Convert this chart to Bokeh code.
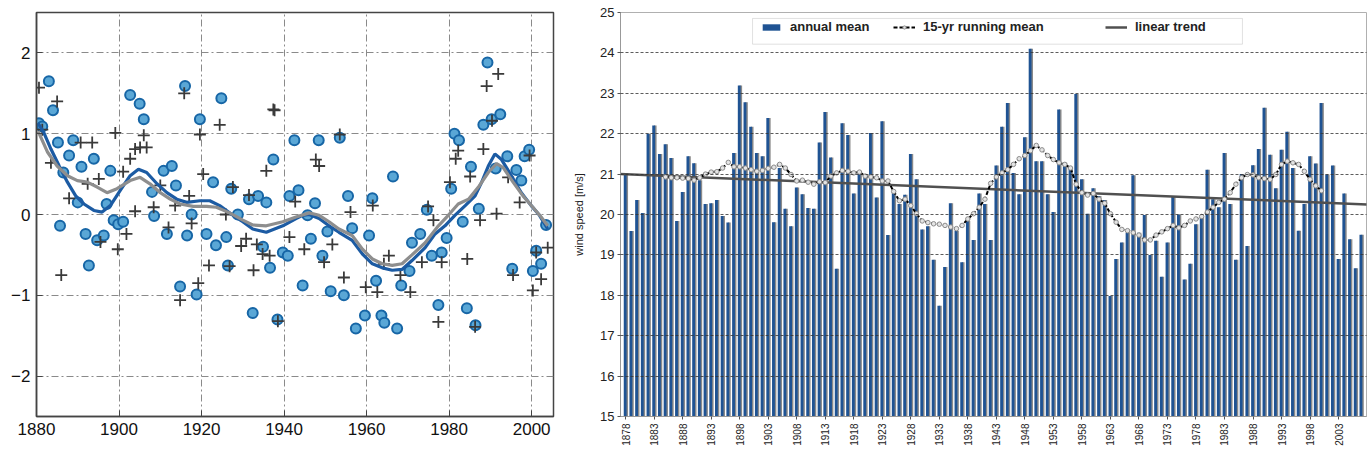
from bokeh.plotting import figure
from bokeh.layouts import row
from bokeh.models import (FixedTicker, Legend, LegendItem, BoxAnnotation)
from bokeh.transform import dodge
from bokeh.embed import file_html
from bokeh.resources import INLINE

# ---------------- left panel data ----------------
circle_years = [1880.6, 1881.4, 1883.0, 1884.0, 1885.2, 1885.7, 1886.5, 1887.9, 1888.9, 1890.0,
                1890.9, 1891.9, 1892.7, 1893.9, 1894.7, 1896.3, 1897.0, 1897.9, 1898.7, 1899.8,
                1901.0, 1902.7, 1905.0, 1906.0, 1908.0, 1908.5, 1910.8, 1911.6, 1912.8, 1913.8,
                1914.8, 1916.0, 1916.5, 1917.6, 1918.8, 1919.6, 1921.2, 1922.8, 1923.5, 1924.8,
                1926.0, 1926.4, 1927.2, 1928.8, 1931.5, 1932.4, 1933.7, 1934.9, 1935.7, 1936.6,
                1937.4, 1938.4, 1939.7, 1940.9, 1941.3, 1942.5, 1943.5, 1944.5, 1945.7, 1946.5,
                1947.5, 1948.4, 1949.3, 1950.5, 1951.3, 1953.5, 1954.5, 1955.5, 1956.5, 1957.4,
                1959.6, 1960.6, 1961.4, 1962.3, 1963.6, 1964.3, 1966.4, 1967.4, 1968.4, 1970.4,
                1971.0, 1973.0, 1974.6, 1975.8, 1977.4, 1978.2, 1979.4, 1980.5, 1981.3, 1982.4,
                1983.3, 1984.3, 1985.3, 1986.4, 1987.2, 1988.3, 1989.3, 1990.3, 1991.3, 1992.4,
                1994.1, 1995.3, 1996.3, 1997.5, 1998.3, 1999.4, 2000.3, 2001.1, 2002.3, 2003.5]
circle_vals = [1.13, 1.09, 1.65, 1.29, 0.89, -0.14, 0.52, 0.73, 0.92, 0.15,
               0.59, -0.24, -0.63, 0.69, -0.32, -0.26, 0.13, 0.54, -0.07, -0.12,
               -0.09, 1.48, 1.37, 1.18, 0.28, -0.02, 0.54, -0.24, 0.60, 0.36,
               -0.89, 1.59, -0.26, 0.00, -0.99, 1.18, -0.24, 0.40, -0.38, 1.44,
               -0.28, -0.63, 0.32, 0.00, 0.19, -1.22, 0.23, -0.40, 0.15, -0.66,
               0.68, -1.30, -0.47, -0.51, 0.23, 0.92, 0.30, -0.88, -0.01, -0.30,
               0.14, 0.92, -0.51, -0.21, -0.95, 0.95, -1.00, 0.23, -0.17, -1.41,
               -1.25, -0.26, 0.20, -0.82, -1.25, -1.34, 0.47, -1.41, -0.88, -0.70,
               -0.35, -0.24, 0.06, -0.51, -1.12, -0.47, -0.29, 0.32, 1.00, 0.92,
               -0.09, -1.16, 0.59, -1.37, 0.07, 1.11, 1.88, 1.18, 0.57, 1.24,
               0.72, -0.67, 0.55, 0.42, 0.72, 0.80, -0.70, -0.45, -0.61, -0.13]

plus_years = [1880.6, 1885.0, 1881.4, 1883.5, 1890.7, 1893.5, 1895.1, 1892.4, 1887.9, 1899.1,
              1902.7, 1903.9, 1905.1, 1906.7, 1906.0, 1901.0, 1903.9, 1908.4, 1910.0, 1912.0,
              1913.6, 1917.0, 1917.6, 1915.8, 1919.6, 1920.4, 1924.4, 1925.9, 1927.6, 1931.5,
              1937.4, 1935.7, 1886.0, 1895.5, 1899.7, 1901.8, 1914.8, 1919.2, 1921.8, 1926.8,
              1929.6, 1930.8, 1932.6, 1933.4, 1934.8, 1936.5, 1938.5, 1937.7, 1947.7, 1948.5,
              1953.5, 1942.7, 1956.1, 1961.5, 1974.9, 1976.2, 1980.2, 1982.2, 1981.6, 1985.1,
              1987.5, 1991.5, 1988.3, 1989.1, 1991.9, 1990.4, 1994.3, 1997.1, 1999.5, 1941.3,
              1944.9, 1949.7, 1951.7, 1954.5, 1959.8, 1962.6, 1964.2, 1965.4, 1968.2, 1970.6,
              1973.4, 1977.4, 1978.2, 1984.4, 1986.3, 1995.5, 2000.3, 2001.1, 2002.3, 2003.9]
plus_vals = [1.57, 1.40, 1.05, 0.64, 0.89, 0.89, 0.44, 0.38, 0.20, 1.01,
             0.69, 0.81, 0.83, 0.83, 0.98, 0.53, 0.04, 0.09, 0.36, -0.16,
             0.11, 0.23, -0.11, 1.50, 0.99, 0.50, 1.11, 0.00, 0.34, 0.24,
             1.30, 0.54, -0.75, -0.34, -0.43, -0.24, -1.06, -0.85, -0.63, -0.64,
             -0.39, -0.30, -0.69, -0.37, -0.49, -0.51, -1.32, 1.29, 0.68, 0.60,
             0.99, 0.16, 0.03, 0.11, 0.10, -0.07, 0.40, 0.79, 0.69, 0.47,
             -0.07, 0.01, 0.81, 1.59, 1.74, 1.16, 0.46, 0.15, 0.73, -0.28,
             -0.43, -0.59, -0.37, -0.78, -0.90, -0.96, -0.61, -0.51, -0.75, -0.96,
             -0.59, -1.33, -0.59, -0.55, -1.39, -0.75, -0.94, -0.47, -0.80, -0.41]

blue_years = [1880.4, 1881.8, 1883.5, 1885.5, 1887.5, 1889.5, 1891.5, 1893.9, 1895.9, 1897.9,
              1900.3, 1902.7, 1904.7, 1906.7, 1909.2, 1911.6, 1914.0, 1916.4, 1919.6, 1922.0,
              1924.4, 1927.6, 1930.0, 1932.4, 1935.7, 1939.7, 1942.9, 1944.5, 1946.1, 1948.5,
              1950.9, 1953.3, 1956.5, 1959.0, 1961.4, 1963.8, 1966.2, 1968.6, 1971.0, 1974.2,
              1976.6, 1979.0, 1981.4, 1983.9, 1986.3, 1987.9, 1989.5, 1991.1, 1992.7, 1995.1,
              1997.5, 1999.9, 2001.9, 2003.9]
blue_vals = [1.13, 1.01, 0.81, 0.60, 0.40, 0.23, 0.13, 0.05, 0.03, 0.11,
             0.30, 0.48, 0.56, 0.52, 0.38, 0.27, 0.19, 0.15, 0.17, 0.17,
             0.11, -0.01, -0.09, -0.18, -0.22, -0.14, -0.05, -0.01, 0.00, -0.05,
             -0.14, -0.22, -0.32, -0.49, -0.61, -0.66, -0.69, -0.68, -0.57, -0.41,
             -0.24, -0.14, -0.01, 0.11, 0.23, 0.40, 0.60, 0.75, 0.68, 0.48,
             0.27, 0.11, -0.01, -0.18]

gray_years = [1880.4, 1882.7, 1885.0, 1887.5, 1889.9, 1892.3, 1894.7, 1897.1, 1899.5, 1902.7,
              1905.1, 1907.5, 1910.0, 1912.4, 1914.8, 1918.0, 1921.2, 1923.6, 1926.8, 1930.0,
              1932.4, 1935.7, 1939.7, 1942.9, 1946.1, 1948.5, 1950.9, 1953.3, 1956.5, 1959.0,
              1961.4, 1963.8, 1966.2, 1968.6, 1971.0, 1974.2, 1977.4, 1979.8, 1982.2, 1984.7,
              1987.1, 1989.5, 1991.5, 1993.1, 1995.5, 1997.9, 2000.3, 2002.3, 2003.9]
gray_vals = [1.03, 0.77, 0.60, 0.48, 0.42, 0.40, 0.34, 0.27, 0.32, 0.42,
             0.46, 0.38, 0.27, 0.19, 0.13, 0.10, 0.10, 0.09, 0.02, -0.07,
             -0.13, -0.14, -0.09, -0.03, 0.02, -0.01, -0.09, -0.18, -0.26, -0.43,
             -0.55, -0.61, -0.63, -0.61, -0.50, -0.35, -0.14, -0.01, 0.13, 0.19,
             0.34, 0.52, 0.63, 0.58, 0.40, 0.23, 0.09, -0.03, -0.14]

left_xticks = [1880, 1900, 1920, 1940, 1960, 1980, 2000]
left_yticks = [-2, -1, 0, 1, 2]

# ---------------- right panel data ----------------
years = list(range(1878, 2008))
wind = [21.03, 19.59, 20.36, 20.04, 22.00, 22.20, 21.50, 21.74, 21.40, 19.84,
        20.56, 21.44, 21.27, 20.85, 20.26, 20.28, 20.36, 19.96, 19.80, 21.52,
        23.19, 22.78, 22.17, 21.52, 21.44, 22.39, 19.81, 21.15, 20.14, 19.71,
        20.67, 20.50, 20.16, 20.14, 21.78, 22.54, 21.41, 18.66, 22.26, 21.97,
        20.52, 21.00, 20.95, 22.02, 20.42, 22.31, 19.49, 20.54, 20.26, 20.49,
        21.50, 20.87, 19.63, 19.71, 18.88, 17.74, 18.70, 20.28, 19.60, 18.82,
        19.84, 19.37, 20.52, 20.26, 19.37, 21.21, 22.17, 22.76, 21.03, 20.50,
        21.91, 24.10, 21.32, 21.32, 20.50, 20.06, 22.60, 21.28, 21.15, 22.98,
        20.87, 20.02, 20.65, 20.46, 20.36, 17.98, 18.90, 19.31, 19.55, 20.97,
        19.55, 19.99, 19.00, 19.35, 18.46, 19.31, 20.46, 20.00, 18.39, 18.78,
        19.76, 19.93, 21.11, 20.38, 20.18, 21.52, 20.26, 18.88, 21.00, 19.22,
        21.22, 21.62, 22.64, 21.48, 20.65, 21.60, 22.05, 21.15, 19.60, 20.26,
        21.44, 21.26, 22.76, 20.99, 21.21, 18.90, 20.52, 19.39, 18.67, 19.50]

rm_years = list(range(1885, 2001))
rm_vals = [20.93, 20.91, 20.91, 20.90, 20.89, 20.85, 20.91, 21.00, 21.05, 21.06,
           21.15, 21.29, 21.18, 21.18, 21.15, 21.11, 21.07, 21.09, 21.14, 21.17,
           21.24, 21.15, 20.99, 20.83, 20.85, 20.80, 20.75, 20.81, 20.79, 20.95,
           21.03, 21.09, 21.07, 21.03, 21.05, 20.95, 20.93, 20.91, 20.83, 20.83,
           20.57, 20.34, 20.38, 20.22, 20.02, 19.84, 19.80, 19.77, 19.76, 19.73,
           19.69, 19.65, 19.73, 19.89, 20.02, 20.18, 20.38, 20.77, 20.93, 21.03,
           21.11, 21.24, 21.38, 21.46, 21.58, 21.71, 21.60, 21.46, 21.36, 21.28,
           21.24, 21.15, 20.75, 20.54, 20.48, 20.52, 20.38, 20.28, 20.02, 19.81,
           19.63, 19.60, 19.55, 19.49, 19.37, 19.37, 19.49, 19.57, 19.65, 19.73,
           19.67, 19.73, 19.84, 19.89, 19.95, 20.06, 20.18, 20.30, 20.38, 20.54,
           20.75, 20.91, 20.99, 20.98, 20.91, 20.89, 20.87, 20.99, 21.24, 21.32,
           21.28, 21.24, 21.07, 20.87, 20.71, 20.59]

trend_years = [1877, 2008]
trend_vals = [21.0, 20.25]

right_xticks = list(range(1878, 2004, 5))
right_yticks = list(range(15, 26))

# ---------------- left figure ----------------
p1 = figure(width=563, height=464, x_range=(1880, 2005.3), y_range=(-2.5, 2.5),
            output_backend="svg", toolbar_location=None,
            min_border_left=36, min_border_right=10, min_border_top=11, min_border_bottom=48)
p1.background_fill_color = "white"
p1.border_fill_color = "white"
p1.outline_line_color = "#444444"
p1.outline_line_width = 1.5

p1.xaxis.ticker = FixedTicker(ticks=left_xticks)
p1.yaxis.ticker = FixedTicker(ticks=left_yticks)
p1.yaxis.major_label_overrides = {-2: "\u22122", -1: "\u22121", 0: "0", 1: "1", 2: "2"}
for ax in (p1.xaxis[0], p1.yaxis[0]):
    ax.major_tick_in = 6
    ax.major_tick_out = 0
    ax.minor_tick_in = 0
    ax.minor_tick_out = 0
    ax.axis_line_color = "#444444"
    ax.axis_line_width = 1.5
    ax.major_tick_line_color = "#444444"
    ax.major_label_text_font = "Liberation Sans"
    ax.major_label_text_font_size = "17px"
    ax.major_label_text_color = "#111111"
p1.xaxis.major_label_standoff = 6
p1.yaxis.major_label_standoff = 6

p1.xgrid.ticker = FixedTicker(ticks=left_xticks)
p1.ygrid.ticker = FixedTicker(ticks=left_yticks)
for g in (p1.xgrid[0], p1.ygrid[0]):
    g.grid_line_color = "#8a8a8a"
    g.grid_line_dash = "7 3 2 3"
    g.grid_line_width = 1

p1.scatter(circle_years, circle_vals, marker="circle", size=10,
           fill_color="#5aa7d6", line_color="#1766a6", line_width=2)
p1.scatter(plus_years, plus_vals, marker="cross", size=12,
           line_color="#3a3a3a", line_width=1.8)
p1.line(blue_years, blue_vals, line_color="#1c5ba3", line_width=3.2)
p1.line(gray_years, gray_vals, line_color="#8e8e8e", line_width=3.2)

# ---------------- right figure ----------------
p2 = figure(width=807, height=464, x_range=(1877.1, 2007.9), y_range=(15, 25),
            output_backend="svg", toolbar_location=None,
            min_border_left=57, min_border_right=4, min_border_top=12, min_border_bottom=44)
p2.background_fill_color = "white"
p2.border_fill_color = "white"
p2.outline_line_color = "#b0b0b0"
p2.outline_line_width = 1

shade = p2.vbar(x=dodge("x", 0.2), top="top", bottom=15, width=0.45,
                source=dict(x=years, top=wind), fill_color="#8a8a8a", line_color=None)
bars = p2.vbar(x=dodge("x", -0.08), top="top", bottom=15, width=0.5,
               source=dict(x=years, top=wind), fill_color="#1f5393", line_color=None)
trend = p2.line(trend_years, trend_vals, line_color="#505050", line_width=2.5)
rm_line = p2.line(rm_years, rm_vals, line_color="black", line_dash="4 2", line_width=2)
rm_pts = p2.scatter(rm_years, rm_vals, marker="circle", size=4.5,
                    fill_color="#e4e4e4", line_color="#8c8c8c", line_width=1)

p2.xaxis.ticker = FixedTicker(ticks=right_xticks)
p2.yaxis.ticker = FixedTicker(ticks=right_yticks)
p2.xaxis.major_label_orientation = 3.14159265 / 2
p2.xaxis.major_label_text_font_size = "10px"
p2.yaxis.major_label_text_font_size = "13px"
for ax in (p2.xaxis[0], p2.yaxis[0]):
    ax.major_label_text_font = "Liberation Sans"
    ax.major_label_text_color = "#222222"
    ax.major_tick_in = 0
    ax.major_tick_out = 3
    ax.minor_tick_in = 0
    ax.minor_tick_out = 0
    ax.axis_line_color = "#999999"
    ax.major_tick_line_color = "#555555"
p2.xaxis.major_label_standoff = 4
p2.yaxis.major_label_standoff = 3
p2.yaxis.axis_label = "wind speed [m/s]"
p2.yaxis.axis_label_text_font = "Liberation Sans"
p2.yaxis.axis_label_text_font_size = "11px"
p2.yaxis.axis_label_text_font_style = "normal"
p2.yaxis.axis_label_text_color = "#222222"
p2.yaxis.axis_label_standoff = 12

p2.xgrid.grid_line_color = None
p2.ygrid.ticker = FixedTicker(ticks=right_yticks)
p2.ygrid.grid_line_color = "#333333"
p2.ygrid.grid_line_alpha = 0.8
p2.ygrid.grid_line_dash = "3 2"
p2.ygrid.level = "overlay"

box = BoxAnnotation(left=1900.25, right=1986.15, top=24.853, bottom=24.216,
                    fill_color="white", fill_alpha=1, line_color="#9a9a9a", line_width=1)
p2.add_layout(box)

def make_legend(label, rends, xoff):
    lg = Legend(items=[LegendItem(label=label, renderers=rends)], location=(xoff, 378),
                orientation="horizontal", padding=4, margin=0,
                background_fill_alpha=0, border_line_alpha=0,
                glyph_width=22, glyph_height=8, label_standoff=8,
                label_text_font="Liberation Sans", label_text_font_size="13px",
                label_text_font_style="bold", label_text_color="#222222")
    return lg

p2.add_layout(make_legend("annual mean", [bars], 136))
p2.add_layout(make_legend("15-yr running mean", [rm_line, rm_pts], 269))
p2.add_layout(make_legend("linear trend", [trend], 481))

layout = row(p1, p2)
open("out.html", "w").write(file_html(layout, INLINE))
